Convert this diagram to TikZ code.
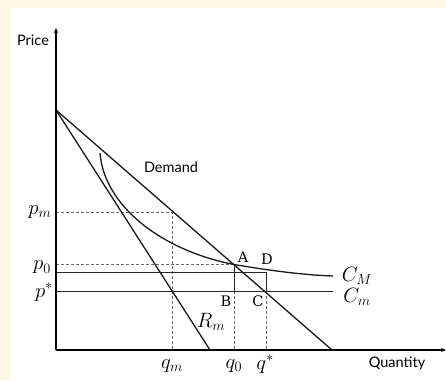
\documentclass[tikz,border=0pt]{standalone}
\usepackage{fontspec}
\newfontfamily\labelsans{Lato}
\newfontfamily\labelserif{DejaVu Serif}
\usetikzlibrary{arrows.meta}
\definecolor{bgyellow}{RGB}{253,246,227}
\definecolor{dashgray}{RGB}{105,105,105}
\tikzset{
  axisline/.style={line width=1.8pt, -{Stealth[length=5pt,width=4pt]}},
  curveline/.style={line width=1.3pt, black!90},
  thinline/.style={line width=1pt, black!85},
  dashline/.style={line width=1pt, dashgray, dash pattern=on 3pt off 2pt},
  sanslabel/.style={font=\labelsans\fontsize{14.5}{16}\selectfont, inner sep=0pt},
  mathlabel/.style={font=\fontsize{19.5}{21}\selectfont, inner sep=0pt},
  ptlabel/.style={font=\labelserif\fontsize{14.5}{16}\selectfont, inner sep=0pt}
}
\begin{document}
\begin{tikzpicture}[x=1pt,y=-1pt]
\fill[bgyellow] (0,0) rectangle (446,380);
\fill[white] (11,8) rectangle (446,380);
\useasboundingbox (0,0) rectangle (446,380);

% key coordinates
\coordinate (O) at (56,350);
\coordinate (ytip) at (56,28);
\coordinate (xtip) at (446,350);
\coordinate (top) at (56,110);
\coordinate (dend) at (332,350);
\coordinate (rend) at (210,350);
\coordinate (A) at (234,264.5);
\coordinate (B) at (234,291);
\coordinate (C) at (266,291);
\coordinate (D) at (266,272);
\coordinate (p0l) at (56,272);
\coordinate (psl) at (56,291);
\coordinate (psr) at (333,291);
\coordinate (p0d) at (56,264.5);
\coordinate (pmd) at (56,212);
\coordinate (M) at (172,212);
\coordinate (qmb) at (172,350);
\coordinate (q0b) at (234,350);
\coordinate (qsb) at (266,350);
\coordinate (cstart) at (100,153);
\coordinate (cend) at (333,276);

% dashed guides
\draw[dashline] (pmd) -- (M) -- (qmb);
\draw[dashline] (p0d) -- (A);
\draw[dashline] (B) -- (q0b);
\draw[dashline] (C) -- (qsb);

% solid horizontal / vertical
\draw[thinline] (p0l) -- (D) -- (C);
\draw[thinline] (A) -- (B);
\draw[thinline] (psl) -- (psr);

% demand and marginal revenue
\draw[curveline] (top) -- (dend);
\draw[curveline] (top) -- (rend);

% average cost curve C_M
\draw[curveline] (cstart) .. controls (104,205) and (160,250) .. (A)
                 .. controls (260,268.9) and (300,275) .. (cend);

% axes
\draw[axisline] (O) -- (ytip);
\draw[axisline] (O) -- (xtip);

% labels
\node[sanslabel] (price) at (33,40) {Price};
\node[sanslabel] (demand) at (171,167) {Demand};
\node[sanslabel] (quantity) at (397,363) {Quantity};

\node[mathlabel] (lpm) at (40,212) {$p_m$};
\node[mathlabel] (lp0) at (42,267.5) {$p_0$};
\node[mathlabel] (lps) at (44,292) {$p^{*}$};
\node[mathlabel] (lqm) at (172,366) {$q_m$};
\node[mathlabel] (lq0) at (234,366) {$q_0$};
\node[mathlabel] (lqs) at (265,364) {$q^{*}$};
\node[mathlabel] (lrm) at (211,322) {$R_m$};
\node[mathlabel] (lcM) at (357,275.5) {$C_M$};
\node[mathlabel] (lcm) at (357,296.5) {$C_m$};

\node[ptlabel] (lA) at (243,257.5) {A};
\node[ptlabel] (lD) at (267,259.5) {D};
\node[ptlabel] (lB) at (226,301.5) {B};
\node[ptlabel] (lC) at (258,301.5) {C};
\end{tikzpicture}
\end{document}
